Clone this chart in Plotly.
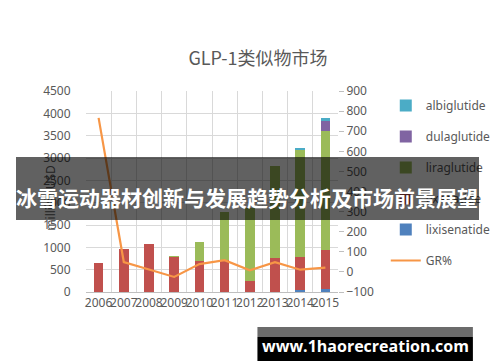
import plotly.graph_objects as go

years = ["2006", "2007", "2008", "2009", "2010", "2011", "2012", "2013", "2014", "2015"]
lixisenatide = [0, 0, 0, 0, 0, 0, 0, 0, 38, 60]
exenatide = [640, 953, 1071, 790, 700, 707, 252, 759, 750, 877]
liraglutide = [0, 0, 0, 8, 416, 1079, 1638, 2069, 2404, 2663]
dulaglutide = [0, 0, 0, 0, 0, 0, 0, 0, 8, 246]
albiglutide = [0, 0, 0, 0, 0, 0, 0, 0, 15, 44]
gr = [766, 49, 12, -25, 39, 58, 8, 48, 11, 21]

W, H = 500, 362
L, R, T, B = 78, 347, 83, 284

def px(x):
    return (x - L) / (R - L)

def py(y):
    return (B - y) / (B - T)

FONT = "Noto Sans, Noto Sans CJK SC, sans-serif"
GRAY = "#595959"

fig = go.Figure()
series = [
    ("lixisenatide", lixisenatide, "#4f81bd", 5),
    ("exenatide", exenatide, "#c0504d", 4),
    ("liraglutide", liraglutide, "#9bbb59", 3),
    ("dulaglutide", dulaglutide, "#8064a2", 2),
    ("albiglutide", albiglutide, "#4bacc6", 1),
]
for name, vals, col, rank in series:
    fig.add_trace(go.Bar(x=years, y=vals, name=name, marker_color=col,
                         marker_line_width=0, legendrank=rank, legendgroup=name))
fig.add_trace(go.Scatter(x=years, y=gr, name="GR%", mode="lines", yaxis="y2",
                         line=dict(color="#f79646", width=2.2), legendrank=6,
                         legendgroup="GR%"))

fig.update_layout(
    width=W, height=H,
    margin=dict(l=L, r=W - R, t=T, b=H - B),
    paper_bgcolor="white", plot_bgcolor="white",
    barmode="stack", bargap=0.62,
    font=dict(family=FONT, color=GRAY, size=12),
    title=dict(text="GLP-1类似物市场", x=0.5, xanchor="center",
               y=1 - 51 / H, yanchor="middle",
               font=dict(family="Noto Sans CJK SC", size=18, color=GRAY)),
    xaxis=dict(type="category", tickson="boundaries", showgrid=True,
               gridcolor="#d9d9d9", gridwidth=1, ticks="", showline=True,
               linecolor="#bfbfbf", tickangle=0,
               tickfont=dict(size=12, color=GRAY), zeroline=False),
    yaxis=dict(range=[0, 4500], dtick=500, gridcolor="#d9d9d9", gridwidth=1,
               showline=False, zeroline=False, ticks="outside", ticklen=12,
               tickcolor="rgba(0,0,0,0)", tickfont=dict(size=12, color=GRAY)),
    yaxis2=dict(range=[-100, 900], dtick=100, overlaying="y", side="right",
                showgrid=False, zeroline=False, showline=False,
                ticks="outside", ticklen=5, tickcolor="#bfbfbf",
                tickfont=dict(size=12, color=GRAY)),
    legend=dict(x=px(398), y=py(83), xanchor="left", yanchor="top",
                traceorder="grouped", tracegroupgap=12,
                font=dict(size=12, color=GRAY), itemwidth=30,
                bgcolor="rgba(0,0,0,0)"),
    showlegend=True,
)

fig.add_annotation(text="million USD", xref="paper", yref="paper",
                   x=px(28), y=py(190), textangle=-90, showarrow=False,
                   font=dict(size=12, color=GRAY))

# overlay banner (annotation box so it sits above the legend)
fig.add_annotation(text=" ", xref="paper", yref="paper",
                   x=px(250.5), y=py(180.5), xanchor="center", yanchor="middle",
                   width=463, height=63, borderpad=0, borderwidth=0,
                   bgcolor="rgba(0,0,0,0.62)", showarrow=False,
                   font=dict(size=12))
fig.add_annotation(text="<b>冰雪运动器材创新与发展趋势分析及市场前景展望</b>",
                   xref="paper", yref="paper", x=px(250), y=py(189),
                   xanchor="center", yanchor="middle", showarrow=False,
                   font=dict(family="Noto Sans CJK SC", size=21, color="white"))

# watermark
fig.add_shape(type="rect", xref="paper", yref="paper",
              x0=px(261), x1=px(491), y0=py(319), y1=py(329),
              fillcolor="#6b6b6b", line_width=0, layer="above")
fig.add_shape(type="rect", xref="paper", yref="paper",
              x0=px(261), x1=px(491), y0=py(329), y1=py(353),
              fillcolor="#000000", line_width=0, layer="above")
fig.add_annotation(text="<b>www.1haorecreation.com</b>", xref="paper", yref="paper",
                   x=px(376), y=py(338), xanchor="center", yanchor="middle",
                   showarrow=False,
                   font=dict(family="Open Sans", size=16, color="white"))

fig.write_html("out.html")
